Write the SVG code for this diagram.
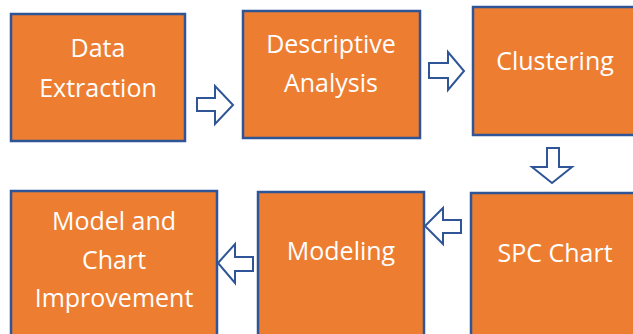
<svg xmlns="http://www.w3.org/2000/svg" width="633" height="334" viewBox="0 0 633 334">
  <style>
    .box { fill: #ED7D31; stroke: #2F5597; stroke-width: 2.5; }
    .lbl { font-family: "Open Sans", "Liberation Sans", sans-serif; font-size: 25px; fill: #FFFFFF; text-anchor: middle; }
    .arrow { fill: #FFFFFF; stroke: #2F5597; stroke-width: 2; stroke-linejoin: miter; }
  </style>
  <rect width="633" height="334" fill="#FFFFFF"/>

  <g id="data-extraction">
    <rect class="box" x="11" y="14" width="174" height="127"/>
    <text class="lbl" x="98" y="57">Data</text>
    <text class="lbl" x="98" y="97">Extraction</text>
  </g>

  <g id="descriptive-analysis">
    <rect class="box" x="243" y="11" width="177" height="127"/>
    <text class="lbl" x="331" y="53">Descriptive</text>
    <text class="lbl" x="331" y="92">Analysis</text>
  </g>

  <g id="clustering">
    <rect class="box" x="473" y="7" width="170" height="128"/>
    <text class="lbl" x="555" y="70">Clustering</text>
  </g>

  <g id="spc-chart">
    <rect class="box" x="471" y="193" width="172" height="150"/>
    <text class="lbl" x="555" y="262">SPC Chart</text>
  </g>

  <g id="modeling">
    <rect class="box" x="258" y="192" width="166" height="150"/>
    <text class="lbl" x="341" y="260">Modeling</text>
  </g>

  <g id="model-chart-improvement">
    <rect class="box" x="11" y="191" width="206" height="152"/>
    <text class="lbl" x="114" y="230">Model and</text>
    <text class="lbl" x="114" y="269">Chart</text>
    <text class="lbl" x="114" y="307">Improvement</text>
  </g>

  <g id="connectors">
    <!-- Data Extraction to Descriptive Analysis -->
    <polygon class="arrow" points="197,98 215,98 215,86 233,105 215,124 215,111 197,111"/>
    <!-- Descriptive Analysis to Clustering -->
    <polygon class="arrow" points="429,63 448,63 448,52 464,71 448,90 448,78 429,78"/>
    <!-- Clustering to SPC Chart -->
    <polygon class="arrow" points="547,148 559,148 559,167 572,167 552,183 532,167 547,167"/>
    <!-- SPC Chart to Modeling -->
    <polygon class="arrow" points="461,220 443,220 443,208 425,226 443,244 443,233 461,233"/>
    <!-- Modeling to Model and Chart Improvement -->
    <polygon class="arrow" points="253,257 235,257 235,244 218,263 235,283 235,271 253,271"/>
  </g>
</svg>
